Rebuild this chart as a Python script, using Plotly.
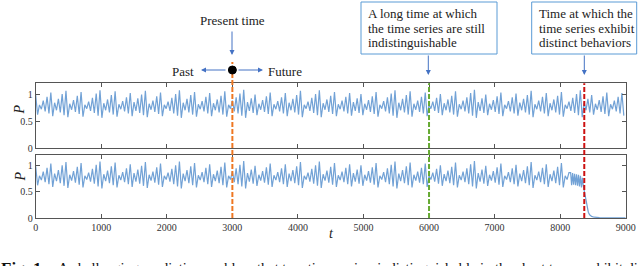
import plotly.graph_objects as go

# ---------------- data ----------------
peaks = [
    0.98, 0.80, 0.88, 0.95, 1.03, 0.84, 0.91, 1.00,
    1.06, 0.82, 0.89, 0.97, 1.04, 0.80, 0.86, 0.93,
    1.01, 1.07, 0.83, 0.90, 0.98, 1.05, 0.81, 0.87,
    0.94, 1.02, 0.85, 0.92, 0.99, 1.06, 0.82, 0.88,
    0.96, 1.03, 0.80, 0.86, 0.93, 1.00, 1.07, 0.84,
    0.91, 0.98, 1.04, 0.81, 0.87, 0.95, 1.02, 0.83,
    0.90, 0.97, 1.05, 0.80, 0.88, 0.94, 1.01, 1.08,
    0.85, 0.92, 0.99, 0.82, 0.89, 0.96, 1.03, 0.81,
    0.87, 0.94, 1.02, 0.84, 0.91, 0.98, 1.06, 0.80,
    0.86, 0.93, 1.00, 1.07, 0.83, 0.90, 0.97, 1.04,
    0.81, 0.88, 0.95, 1.02, 0.85, 0.92, 1.00, 0.82,
    0.89, 0.96, 1.04, 0.80, 0.87, 0.94, 1.01, 1.07,
    0.84, 0.91, 0.98, 1.05, 0.82, 0.88, 0.95, 1.03,
    0.80, 0.86, 0.93, 1.00, 0.83, 0.90, 0.97, 1.05,
    0.81, 0.88, 0.94, 1.02, 1.08, 0.85, 0.92, 0.99,
    0.82, 0.89, 0.96, 1.03, 0.80, 0.87, 0.94, 1.01,
    0.84, 0.91, 0.98, 1.06, 0.81, 0.88, 0.95, 1.02,
    0.83, 0.90, 0.97, 1.04, 0.80, 0.86, 0.93, 1.00,
    1.07, 0.84, 0.91, 0.98, 0.82, 0.89, 0.96, 1.03,
    0.81, 0.88, 0.95, 1.02,
]
troughs = [
    0.62, 0.72, 0.68, 0.64, 0.59, 0.70, 0.66, 0.61,
    0.57, 0.71, 0.67, 0.63, 0.58, 0.73, 0.69, 0.65,
    0.60, 0.56, 0.70, 0.66, 0.62, 0.58, 0.72, 0.68,
    0.64, 0.59, 0.69, 0.65, 0.61, 0.57, 0.71, 0.67,
    0.63, 0.59, 0.73, 0.69, 0.64, 0.60, 0.56, 0.70,
    0.66, 0.62, 0.58, 0.72, 0.68, 0.64, 0.59, 0.70,
    0.66, 0.62, 0.58, 0.73, 0.68, 0.64, 0.60, 0.56,
    0.69, 0.65, 0.61, 0.71, 0.67, 0.63, 0.59, 0.72,
    0.68, 0.64, 0.59, 0.70, 0.66, 0.62, 0.57, 0.73,
    0.69, 0.65, 0.61, 0.57, 0.71, 0.67, 0.63, 0.59,
    0.72, 0.68, 0.64, 0.60, 0.69, 0.65, 0.61, 0.71,
    0.67, 0.63, 0.58, 0.73, 0.68, 0.64, 0.60, 0.56,
    0.70, 0.66, 0.62, 0.58, 0.71, 0.67, 0.64, 0.59,
    0.73, 0.69, 0.65, 0.61, 0.70, 0.66, 0.62, 0.58,
    0.72, 0.68, 0.64, 0.60, 0.56, 0.69, 0.65, 0.61,
    0.71, 0.67, 0.63, 0.59, 0.73, 0.68, 0.64, 0.60,
    0.70, 0.66, 0.62, 0.57, 0.72, 0.68, 0.64, 0.59,
    0.70, 0.66, 0.62, 0.58, 0.73, 0.69, 0.65, 0.61,
    0.57, 0.70, 0.66, 0.62, 0.71, 0.67, 0.63, 0.59,
    0.72, 0.68, 0.64, 0.60,
]
t_end = 9000
split_time = 8150
tail_t = [8160, 8175, 8190, 8205, 8220, 8235, 8250, 8265, 8280, 8295, 8310, 8325, 8340,
          8355, 8370, 8385, 8400, 8415, 8430, 8450, 8480, 8520, 8600, 8800, 9000]
tail_p = [0.86, 0.62, 0.85, 0.63, 0.84, 0.62, 0.83, 0.61, 0.82, 0.60, 0.80, 0.58, 0.76,
          0.60, 0.50, 0.38, 0.26, 0.17, 0.11, 0.06, 0.03, 0.015, 0.008, 0.005, 0.005]

present_t = 3000
long_t = 6000
distinct_t = 8368
x_ticks = [0, 1000, 2000, 3000, 4000, 5000, 6000, 7000, 8000, 9000]
y_ticks = [0, 0.5, 1]
y_ticktext = ["0", "0.5", "1"]

# ---------------- build series ----------------
vals = []
for p, q in zip(peaks, troughs):
    vals += [p, q]
half = t_end / len(vals)
times = [i * half for i in range(len(vals))]

bt = [t for t in times if t < split_time] + tail_t
bp = [v for t, v in zip(times, vals) if t < split_time] + tail_p

W, H = 640, 266
def px(x):
    return x / W
def py(y):
    return 1 - y / H

serif = "Liberation Serif, Times New Roman, serif"
line_col = "#72A2D6"
arrow_col = "#4472C4"
box_col = "#5B9BD5"

fig = go.Figure()
fig.add_trace(go.Scatter(x=times, y=vals, mode="lines", line=dict(color=line_col, width=1.2),
                         xaxis="x", yaxis="y", showlegend=False))
fig.add_trace(go.Scatter(x=bt, y=bp, mode="lines", line=dict(color=line_col, width=1.2),
                         xaxis="x2", yaxis="y2", showlegend=False))

xdom = [px(35.7), px(625.7)]
axcommon = dict(range=[0, t_end], tickvals=x_ticks, ticks="inside", ticklen=4, tickcolor="#555",
                showline=True, linecolor="#555", linewidth=1, mirror="ticks", showgrid=False,
                zeroline=False, domain=xdom, automargin=False,
                tickfont=dict(family=serif, size=10, color="#333"))
ycommon = dict(range=[0, 1.2], tickvals=y_ticks, ticktext=y_ticktext, ticks="inside", ticklen=4,
               tickcolor="#555", showline=True, linecolor="#555", linewidth=1, mirror="ticks",
               showgrid=False, zeroline=False, automargin=False,
               tickfont=dict(family=serif, size=10, color="#333"))

fig.update_layout(
    template="none",
    width=W, height=H, margin=dict(l=0, r=0, t=0, b=0, autoexpand=False),
    paper_bgcolor="white", plot_bgcolor="white",
    xaxis=dict(axcommon, anchor="y", showticklabels=False),
    yaxis=dict(ycommon, anchor="x", domain=[py(148), py(83.3)]),
    xaxis2=dict(axcommon, anchor="y2"),
    yaxis2=dict(ycommon, anchor="x2", domain=[py(218), py(154.7)]),
)

shapes = []
shapes.append(dict(type="line", xref="x", yref="paper", x0=present_t, x1=present_t,
                   y0=py(218), y1=py(62), line=dict(color="#EE7722", width=2, dash="5px,2px")))
shapes.append(dict(type="line", xref="x", yref="paper", x0=long_t, x1=long_t,
                   y0=py(218), y1=py(83.3), line=dict(color="#66AA33", width=2, dash="5px,2px")))
shapes.append(dict(type="line", xref="x", yref="paper", x0=distinct_t, x1=distinct_t,
                   y0=py(218), y1=py(83.3), line=dict(color="#CC1111", width=2, dash="5px,2px")))
# boxes
shapes.append(dict(type="rect", xref="paper", yref="paper", x0=px(361), x1=px(497),
                   y0=py(54), y1=py(2), line=dict(color=box_col, width=1), fillcolor="white"))
shapes.append(dict(type="rect", xref="paper", yref="paper", x0=px(531.7), x1=px(636.7),
                   y0=py(54), y1=py(2), line=dict(color=box_col, width=1), fillcolor="white"))
# present-time dot
shapes.append(dict(type="circle", xref="x", yref="paper", xsizemode="pixel", ysizemode="pixel",
                   xanchor=present_t, yanchor=py(70), x0=-4, x1=4, y0=-4, y1=4,
                   fillcolor="black", line=dict(color="black", width=1)))
fig.update_layout(shapes=shapes)

ann = []
def text(x, y, s, size=13, xanchor="center", **kw):
    ann.append(dict(xref="paper", yref="paper", x=px(x), y=py(y), text=s, showarrow=False,
                    xanchor=xanchor, yanchor="middle", font=dict(family=serif, size=size, color="#222"), **kw))

def arrow(x0, y0, x1, y1):
    ann.append(dict(xref="paper", yref="paper", x=px(x1), y=py(y1), ax=x0 - x1, ay=y0 - y1,
                    axref="pixel", ayref="pixel", text="", showarrow=True, arrowhead=2,
                    arrowsize=1, arrowwidth=1, arrowcolor=arrow_col))

text(232, 20, "Present time")
arrow(232, 30, 232, 55)
arrow(227, 70, 201, 70)
arrow(237, 70, 263, 70)
text(183, 71, "Past")
text(285, 71, "Future")

for i, s in enumerate(["A long time at which", "the time series are still", "indistinguishable"]):
    text(366, 14 + 14.5 * i, s, size=13, xanchor="left")
arrow(428.3, 54, 428.3, 75)
for i, s in enumerate(["Time at which the", "time series exhibit", "distinct behaviors"]):
    text(536.5, 14 + 14.5 * i, s, size=13, xanchor="left")
arrow(584.3, 54, 584.3, 75)

ann.append(dict(xref="paper", yref="paper", x=px(10), y=py(110), text="<i>P</i>", showarrow=False,
                textangle=-90, font=dict(family=serif, size=14, color="#222")))
ann.append(dict(xref="paper", yref="paper", x=px(10), y=py(184), text="<i>P</i>", showarrow=False,
                textangle=-90, font=dict(family=serif, size=14, color="#222")))
ann.append(dict(xref="paper", yref="paper", x=px(331), y=py(243), text="<i>t</i>", showarrow=False,
                font=dict(family=serif, size=14, color="#222")))
ann.append(dict(xref="paper", yref="paper", x=px(-1), y=py(257), xanchor="left", yanchor="top",
                text="<b>Fig. 1.</b>", showarrow=False, font=dict(family=serif, size=17, color="#111")))
ann.append(dict(xref="paper", yref="paper", x=px(56), y=py(258), xanchor="left", yanchor="top",
                text="A challenging prediction problem that two time series, indistinguishable in the short term, exhibit distinct behaviors",
                showarrow=False, font=dict(family=serif, size=14.5, color="#111")))
fig.update_layout(annotations=ann)

fig.write_html("out.html", config={"displayModeBar": False},
               post_script="document.body.style.margin='0';document.body.style.overflow='hidden';")
